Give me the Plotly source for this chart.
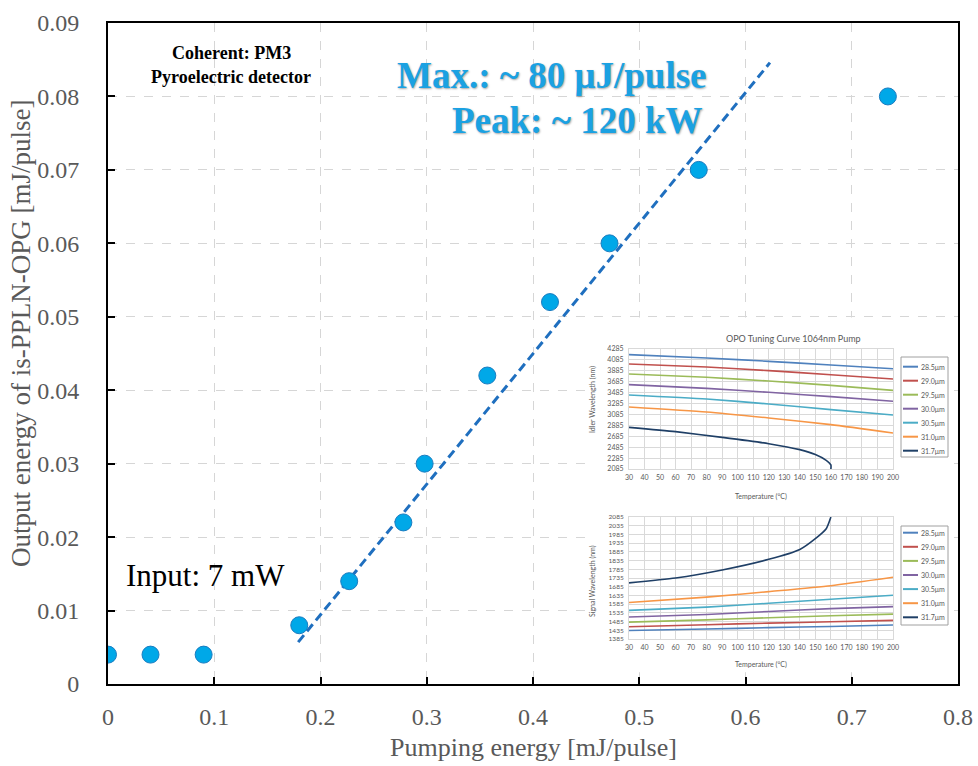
import plotly.graph_objects as go

# ---------------- main data ----------------
pump_energy = [0.0, 0.04, 0.09, 0.18, 0.227, 0.278, 0.298, 0.357, 0.416, 0.472, 0.556, 0.734]
output_energy = [0.004, 0.004, 0.004, 0.008, 0.014, 0.022, 0.030, 0.042, 0.052, 0.060, 0.070, 0.080]
fit_x = [0.179, 0.623]
fit_y = [0.0057, 0.0846]

# ---------------- inset data (OPO tuning curves) ----------------
periods = ["28.5μm", "29.0μm", "29.5μm", "30.0μm", "30.5μm", "31.0μm", "31.7μm"]
period_colors = ["#4F81BD", "#C0504D", "#9BBB59", "#8064A2", "#4BACC6", "#F79646", "#1F3F66"]

temp_std = [30, 80, 120, 160, 200]
idler_285 = [4181, 4120, 4059, 3992, 3924]
idler_290 = [4010, 3955, 3888, 3814, 3735]
idler_295 = [3827, 3766, 3698, 3619, 3527]
idler_300 = [3631, 3564, 3491, 3411, 3326]
idler_305 = [3442, 3368, 3277, 3174, 3075]
idler_310 = [3222, 3130, 3020, 2898, 2745]
temp_317_idler = [30, 60, 90, 120, 140, 150, 157, 160, 160]
idler_317 = [2849, 2770, 2665, 2549, 2440, 2350, 2244, 2160, 2085]

signal_285 = [1434, 1442, 1450, 1457, 1465]
signal_290 = [1455, 1467, 1476, 1484, 1492]
signal_295 = [1482, 1495, 1507, 1518, 1528]
signal_300 = [1511, 1526, 1543, 1559, 1571]
signal_305 = [1549, 1568, 1590, 1613, 1636]
signal_310 = [1594, 1625, 1657, 1691, 1739]
temp_317_signal = [30, 60, 90, 120, 140, 150, 157, 160]
signal_317 = [1707, 1735, 1781, 1842, 1899, 1961, 2018, 2085]

idler_sets = [(temp_std, idler_285), (temp_std, idler_290), (temp_std, idler_295),
              (temp_std, idler_300), (temp_std, idler_305), (temp_std, idler_310),
              (temp_317_idler, idler_317)]
signal_sets = [(temp_std, signal_285), (temp_std, signal_290), (temp_std, signal_295),
               (temp_std, signal_300), (temp_std, signal_305), (temp_std, signal_310),
               (temp_317_signal, signal_317)]

# ---------------- layout helpers (pixel -> paper) ----------------
W, H = 978, 766
L, R, T, B = 108, 958, 23, 684


def px(x):
    return (x - L) / (R - L)


def py(y):
    return (B - y) / (B - T)


SERIF = "Liberation Serif"
SANS = "Lato"
GRAY = "#595959"

fig = go.Figure()

# fit line
fig.add_trace(go.Scatter(x=fit_x, y=fit_y, mode="lines",
                         line=dict(color="#1F6FBF", width=3, dash="9px,5px"),
                         xaxis="x", yaxis="y", showlegend=False, hoverinfo="skip"))
# data points
fig.add_trace(go.Scatter(x=pump_energy, y=output_energy, mode="markers",
                         marker=dict(size=17, color="#00A8E8",
                                     line=dict(color="#1A7CC0", width=1)),
                         xaxis="x", yaxis="y", showlegend=False))

# inset traces
for (t, v), c in zip(idler_sets, period_colors):
    fig.add_trace(go.Scatter(x=t, y=v, mode="lines", line=dict(color=c, width=1.6, shape="spline", smoothing=0.6),
                             xaxis="x2", yaxis="y2", showlegend=False, hoverinfo="skip"))
for (t, v), c in zip(signal_sets, period_colors):
    fig.add_trace(go.Scatter(x=t, y=v, mode="lines", line=dict(color=c, width=1.6, shape="spline", smoothing=0.6),
                             xaxis="x3", yaxis="y3", showlegend=False, hoverinfo="skip"))

main_axis = dict(showline=True, linecolor="black", linewidth=2, mirror=True,
                 ticks="inside", ticklen=7, tickwidth=1.5, tickcolor="black",
                 showgrid=True, gridcolor="#d6d6d6", gridwidth=1, griddash="dash",
                 zeroline=False, automargin=False,
                 tickfont=dict(family=SERIF, size=24, color=GRAY))

inset_x = dict(range=[30, 200], dtick=10, tick0=30, showgrid=True, gridcolor="#d9d9d9",
               gridwidth=1, showline=True, linecolor="#d9d9d9", mirror=True, ticks="",
               zeroline=False, tickangle=0, ticklabelstandoff=2,
               tickfont=dict(family=SANS, size=7, color=GRAY))
inset_y = dict(showgrid=True, gridcolor="#d9d9d9", gridwidth=1, showline=True,
               linecolor="#d9d9d9", mirror=True, ticks="", zeroline=False,
               ticklabelstandoff=3, tickfont=dict(family=SANS, size=7, color=GRAY))

fig.update_layout(
    width=W, height=H,
    margin=dict(l=L, r=W - R, t=T, b=H - B),
    paper_bgcolor="white", plot_bgcolor="white",
    showlegend=False,
    xaxis=dict(main_axis, range=[0, 0.8], dtick=0.1, tick0=0, ticklabelstandoff=10),
    yaxis=dict(main_axis, range=[0, 0.09], dtick=0.01, tick0=0, ticklabelstandoff=22),
    xaxis2=dict(inset_x, domain=[px(629), px(893)], anchor="y2"),
    yaxis2=dict(inset_y, domain=[py(469), py(349)], anchor="x2",
                range=[2085, 4285], dtick=200, tick0=2085),
    xaxis3=dict(inset_x, domain=[px(629), px(893)], anchor="y3"),
    yaxis3=dict(inset_y, domain=[py(639), py(517)], anchor="x3",
                range=[1385, 2085], dtick=50, tick0=1385,
                tickfont=dict(family=SANS, size=6.5, color=GRAY)),
)

shapes = []
# white inset background (between main gridlines and traces)
shapes.append(dict(type="rect", xref="x", yref="y", x0=0.452, x1=0.79, y0=0.0016, y1=0.0499,
                   fillcolor="white", line=dict(width=0), layer="between"))

# inset legends
for top, bottom, first, step in [(357, 457, 366.7, 14.0), (526, 625, 532.7, 14.1)]:
    shapes.append(dict(type="rect", xref="paper", yref="paper",
                       x0=px(901), x1=px(948), y0=py(bottom), y1=py(top),
                       fillcolor="white", line=dict(color="#a0a0a0", width=1)))
    for k, (name, c) in enumerate(zip(periods, period_colors)):
        yy = first + step * k
        shapes.append(dict(type="line", xref="paper", yref="paper",
                           x0=px(903), x1=px(918), y0=py(yy), y1=py(yy),
                           line=dict(color=c, width=2)))
        fig.add_annotation(x=px(919), y=py(yy), xref="paper", yref="paper",
                           text=name, showarrow=False, xanchor="left", yanchor="middle",
                           font=dict(family=SANS, size=7, color=GRAY))

fig.update_layout(shapes=shapes)


def note(x, y, text, size, color="black", family=SERIF, angle=0, shadow=None):
    f = dict(family=family, size=size, color=color)
    if shadow:
        f["shadow"] = shadow
    fig.add_annotation(x=px(x), y=py(y), xref="paper", yref="paper", text=text,
                       showarrow=False, xanchor="center", yanchor="middle",
                       textangle=angle, font=f)


# axis titles
note(533, 747, "Pumping energy [mJ/pulse]", 26, color=GRAY)
note(21, 334, "Output energy of is-PPLN-OPG [mJ/pulse]", 27, color=GRAY, angle=-90)

note(231, 53, "<b>Coherent: PM3</b>", 18)
note(231, 77, "<b>Pyroelectric detector</b>", 18)
note(552, 75, "<b>Max.: ~ 80 μJ/pulse</b>", 37, color="#1BA1E2",
     shadow="1px 1px 2px rgba(0,0,0,0.35)")
note(577, 120, "<b>Peak: ~ 120 kW</b>", 37, color="#1BA1E2",
     shadow="1px 1px 2px rgba(0,0,0,0.35)")
note(205, 575, "Input: 7 mW", 31)

# inset texts
note(793, 338, "OPO Tuning Curve 1064nm Pump", 9, color=GRAY, family=SANS)
note(761, 496, "Temperature (°C)", 7, color=GRAY, family=SANS)
note(761, 664, "Temperature (°C)", 7, color=GRAY, family=SANS)
note(592, 400, "Idler Wavelength (nm)", 7, color=GRAY, family=SANS, angle=-90)
note(592, 581, "Signal Wavelength (nm)", 7, color=GRAY, family=SANS, angle=-90)

fig.write_html("out.html", config={"displayModeBar": False},
               post_script="document.body.style.margin='0px';document.body.style.overflow='hidden';")
